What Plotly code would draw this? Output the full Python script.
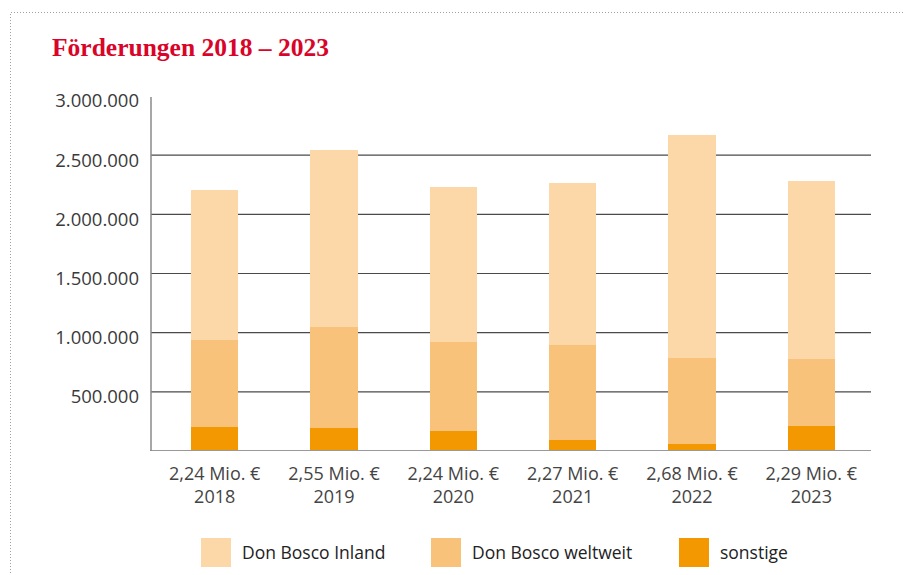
import plotly.graph_objects as go

years = ["2018", "2019", "2020", "2021", "2022", "2023"]
total_labels = ["2,24 Mio. €", "2,55 Mio. €", "2,24 Mio. €", "2,27 Mio. €", "2,68 Mio. €", "2,29 Mio. €"]
sonstige = [204000, 198000, 165000, 97000, 63000, 215000]
weltweit = [738000, 853000, 760000, 802000, 727000, 566000]
inland = [1267000, 1495000, 1309000, 1369000, 1883000, 1504000]
series_names = ["Don Bosco Inland", "Don Bosco weltweit", "sonstige"]
colors = ["#FCD7A8", "#F9C27B", "#F39800"]
y_ticks = [500000, 1000000, 1500000, 2000000, 2500000, 3000000]
y_tick_labels = ["500.000", "1.000.000", "1.500.000", "2.000.000", "2.500.000", "3.000.000"]
grid_vals = [500000, 1000000, 1500000, 2000000, 2500000]

W, H = 903, 575
L, R, T, B = 155, 32, 96, 124
pw, ph = W - L - R, H - T - B

def px_x(px):
    return (px - L) / pw

def px_y(py):
    return (H - B - py) / ph

fig = go.Figure()
for name, vals, col in [(series_names[2], sonstige, colors[2]),
                        (series_names[1], weltweit, colors[1]),
                        (series_names[0], inland, colors[0])]:
    fig.add_trace(go.Bar(x=years, y=vals, name=name, marker=dict(color=col, line=dict(width=0)),
                         showlegend=False))

shapes = []
for g in grid_vals:
    shapes.append(dict(type="line", xref="paper", yref="y", x0=px_x(151), x1=1, y0=g, y1=g,
                       line=dict(color="#4a4a4a", width=1.2), layer="below"))
# baseline
shapes.append(dict(type="line", xref="paper", yref="y", x0=px_x(150), x1=1, y0=0, y1=0,
                   line=dict(color="#999999", width=2), layer="above"))
# left axis line
shapes.append(dict(type="line", xref="paper", yref="paper", x0=px_x(151), x1=px_x(151),
                   y0=0, y1=px_y(97),
                   line=dict(color="#8a8a8a", width=1.5), layer="above"))
# dotted frame
shapes.append(dict(type="rect", xref="paper", yref="paper",
                   x0=px_x(10.5), x1=px_x(960), y0=px_y(620), y1=px_y(12.5),
                   line=dict(color="#a0a0a0", width=1, dash="1px,2px"), fillcolor="rgba(0,0,0,0)"))

annotations = []
legend_x = [201, 431, 679]
for name, col, lx in zip(series_names, colors, legend_x):
    shapes.append(dict(type="rect", xref="paper", yref="paper",
                       x0=px_x(lx), x1=px_x(lx + 30), y0=px_y(567), y1=px_y(538),
                       line=dict(width=0), fillcolor=col))
    annotations.append(dict(xref="paper", yref="paper", x=px_x(lx + 39), y=px_y(552),
                            xanchor="left", yanchor="middle", showarrow=False, text=name,
                            font=dict(family="Open Sans", size=17.5, color="#222222")))

fig.update_layout(
    width=W, height=H,
    margin=dict(l=L, r=R, t=T, b=B),
    paper_bgcolor="white", plot_bgcolor="white",
    barmode="stack", bargap=0.605,
    title=dict(text="<b>Förderungen 2018 – 2023</b>", x=52 / W, xanchor="left",
               y=1 - 47 / H, yanchor="middle", yref="container",
               font=dict(family="Liberation Serif", size=25.5, color="#D90429")),
    xaxis=dict(type="category", tickvals=years,
               ticktext=[f"{t}<br>{y}" for t, y in zip(total_labels, years)],
               showgrid=False, showline=False, zeroline=False, ticks="",
               ticklabelstandoff=10,
               tickfont=dict(family="Open Sans", size=18, color="#444444")),
    yaxis=dict(range=[0, 3000000], tickvals=y_ticks, ticktext=y_tick_labels,
               showgrid=False, showline=False, zeroline=False, ticks="",
               ticklabelstandoff=15, ticklabelshift=5,
               tickfont=dict(family="Open Sans", size=18.5, color="#3a3a3a")),
    shapes=shapes, annotations=annotations,
)

fig.write_html("out.html", config={"displayModeBar": False},
               post_script="document.body.style.margin='0';")
